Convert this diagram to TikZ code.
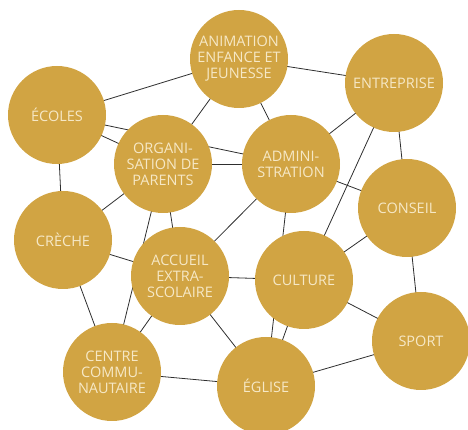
\documentclass[tikz,border=0pt]{standalone}
\usepackage{fontspec}
\setmainfont{Open Sans}
\usetikzlibrary{backgrounds}
\definecolor{gold}{HTML}{D1A443}
\definecolor{cream}{HTML}{F6E8C6}
\definecolor{edgec}{HTML}{2E2E2E}
\tikzset{
  bubble/.style={circle, fill=gold, minimum size=98pt, inner sep=0pt,
    text=cream, align=center, font=\fontsize{14.5}{16}\selectfont},
  link/.style={draw=edgec, line width=0.8pt}
}
\begin{document}
\begin{tikzpicture}[x=1pt,y=1pt]
\useasboundingbox (0,0) rectangle (468,430);
\node[bubble] (anim) at (239,371) {ANIMATION\\ENFANCE ET\\JEUNESSE};
\node[bubble] (entr) at (394,347) {ENTREPRISE};
\node[bubble] (ecol) at (57,315) {ÉCOLES};
\node[bubble] (org) at (163,266) {ORGANI-\\SATION DE\\PARENTS};
\node[bubble] (admin) at (291,266) {ADMINI-\\STRATION};
\node[bubble] (cons) at (407,222) {CONSEIL};
\node[bubble] (crec) at (63,190) {CRÈCHE};
\node[bubble] (acc) at (180,154) {ACCUEIL\\EXTRA-\\SCOLAIRE};
\node[bubble] (cult) at (304,150) {CULTURE};
\node[bubble] (sport) at (421,89) {SPORT};
\node[bubble] (centre) at (112,58) {CENTRE\\COMMU-\\NAUTAIRE};
\node[bubble] (egl) at (266,44) {ÉGLISE};
\begin{scope}[on background layer]
\path[link] (ecol.center) -- (anim.center);
\path[link] (ecol.center) -- (org.center);
\path[link] (ecol.center) -- (admin.center);
\path[link] (ecol.center) -- (crec.center);
\path[link] (anim.center) -- (org.center);
\path[link] (anim.center) -- (entr.center);
\path[link] (anim.center) -- (admin.center);
\path[link] (org.center) -- (admin.center);
\path[link] (org.center) -- (crec.center);
\path[link] (org.center) -- (acc.center);
\path[link] (org.center) -- (centre.center);
\path[link] (admin.center) -- (entr.center);
\path[link] (admin.center) -- (cons.center);
\path[link] (admin.center) -- (acc.center);
\path[link] (admin.center) -- (egl.center);
\path[link] (entr.center) -- (cons.center);
\path[link] (entr.center) -- (cult.center);
\path[link] (cons.center) -- (cult.center);
\path[link] (cons.center) -- (sport.center);
\path[link] (cult.center) -- (acc.center);
\path[link] (cult.center) -- (sport.center);
\path[link] (cult.center) -- (egl.center);
\path[link] (sport.center) -- (egl.center);
\path[link] (acc.center) -- (egl.center);
\path[link] (acc.center) -- (crec.center);
\path[link] (acc.center) -- (centre.center);
\path[link] (crec.center) -- (centre.center);
\path[link] (centre.center) -- (egl.center);
\end{scope}
\end{tikzpicture}
\end{document}
